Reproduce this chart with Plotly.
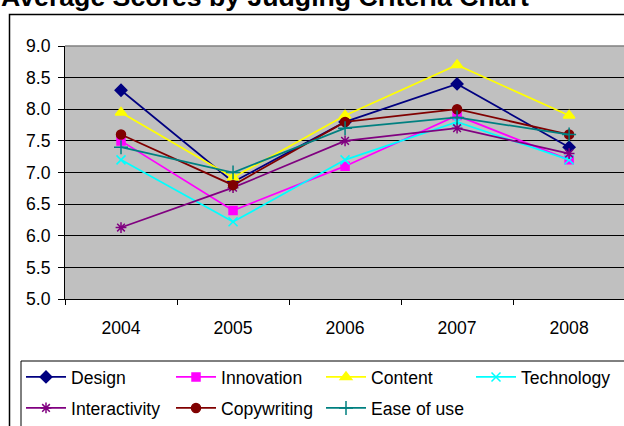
import plotly.graph_objects as go

years = ["2004", "2005", "2006", "2007", "2008"]
design = [8.3, 6.85, 7.8, 8.4, 7.4]
innovation = [7.5, 6.4, 7.1, 7.9, 7.2]
content = [7.95, 6.92, 7.9, 8.7, 7.9]
technology = [7.2, 6.22, 7.2, 7.8, 7.2]
interactivity = [6.13, 6.76, 7.5, 7.7, 7.3]
copywriting = [7.6, 6.8, 7.8, 8.0, 7.6]
ease_of_use = [7.4, 7.0, 7.7, 7.87, 7.6]

series = [
    ("Design", design, "#000080", "diamond", 9, "legend"),
    ("Innovation", innovation, "#FF00FF", "square", 8, "legend"),
    ("Content", content, "#FFFF00", "triangle-up", 10, "legend"),
    ("Technology", technology, "#00FFFF", "x-thin-open", 9, "legend"),
    ("Interactivity", interactivity, "#800080", "asterisk-open", 9, "legend2"),
    ("Copywriting", copywriting, "#800000", "circle", 9, "legend2"),
    ("Ease of use", ease_of_use, "#008080", "cross-thin-open", 10, "legend2"),
]

W, H = 624, 426
ML, MT, MB, MR = 65, 46, 127, 0
PW = W - ML - MR
PH = H - MT - MB


def px(x):
    return (x - ML) / PW


def py(y):
    return (H - MB - y) / PH


fig = go.Figure()
for name, vals, color, sym, size, lg in series:
    fig.add_trace(go.Scatter(
        x=years, y=vals, name=name, mode="lines+markers",
        line=dict(color=color, width=1.75),
        marker=dict(symbol=sym, size=size, color=color,
                    line=dict(color=color, width=1.5)),
        legend=lg,
    ))

font_family = "Liberation Sans, Arial, sans-serif"
FS = 17.6
legend_common = dict(
    orientation="h", xanchor="left", yanchor="middle",
    bgcolor="rgba(0,0,0,0)", borderwidth=0,
    font=dict(family=font_family, size=FS, color="black"),
    itemwidth=40, entrywidth=95, entrywidthmode="pixels",
    itemclick=False, itemdoubleclick=False,
)

fig.update_layout(
    width=W, height=H,
    margin=dict(l=ML, r=MR, t=MT, b=MB, autoexpand=False),
    paper_bgcolor="white", plot_bgcolor="#C0C0C0",
    font=dict(family=font_family, size=FS, color="black"),
    showlegend=True,
    hovermode=False,
    legend=dict(x=px(21), y=py(377), **legend_common),
    legend2=dict(x=px(21), y=py(408), **legend_common),
    xaxis=dict(
        type="category", range=[-0.5, 4.49],
        showgrid=False, ticks="outside", tickson="boundaries",
        ticklen=5, tickcolor="black", tickwidth=1,
        showline=True, linecolor="black", linewidth=1,
        ticklabelstandoff=13,
        tickfont=dict(family=font_family, size=FS, color="black"),
    ),
    yaxis=dict(
        range=[5, 9], dtick=0.5, tick0=5, tickformat=".1f",
        showgrid=True, gridcolor="black", gridwidth=1, zeroline=False,
        ticks="outside", ticklen=6, tickcolor="black", tickwidth=1,
        showline=True, linecolor="black", linewidth=1,
        ticklabelstandoff=4,
        tickfont=dict(family=font_family, size=FS, color="black"),
    ),
    annotations=[dict(
        text="Average Scores by Judging Criteria Chart",
        xref="paper", yref="paper", x=px(531), y=py(14),
        xanchor="right", yanchor="bottom", showarrow=False,
        font=dict(family=font_family, size=26.67, color="black", weight="bold"),
    )],
    shapes=[
        dict(type="rect", xref="paper", yref="paper",
             x0=px(9.5), x1=px(640), y0=py(460), y1=py(14.5),
             line=dict(color="black", width=1.5), fillcolor="rgba(0,0,0,0)"),
        dict(type="rect", xref="paper", yref="paper",
             x0=px(21), x1=px(640), y0=py(460), y1=py(361),
             line=dict(color="black", width=1), fillcolor="rgba(0,0,0,0)"),
        dict(type="line", xref="paper", yref="paper",
             x0=0, x1=1, y0=1, y1=1, layer="above",
             line=dict(color="#808080", width=1.5)),
    ],
)

fig.write_html(
    "out.html",
    config={"displayModeBar": False, "staticPlot": True},
    post_script="document.body.style.margin='0';document.body.style.padding='0';",
)
